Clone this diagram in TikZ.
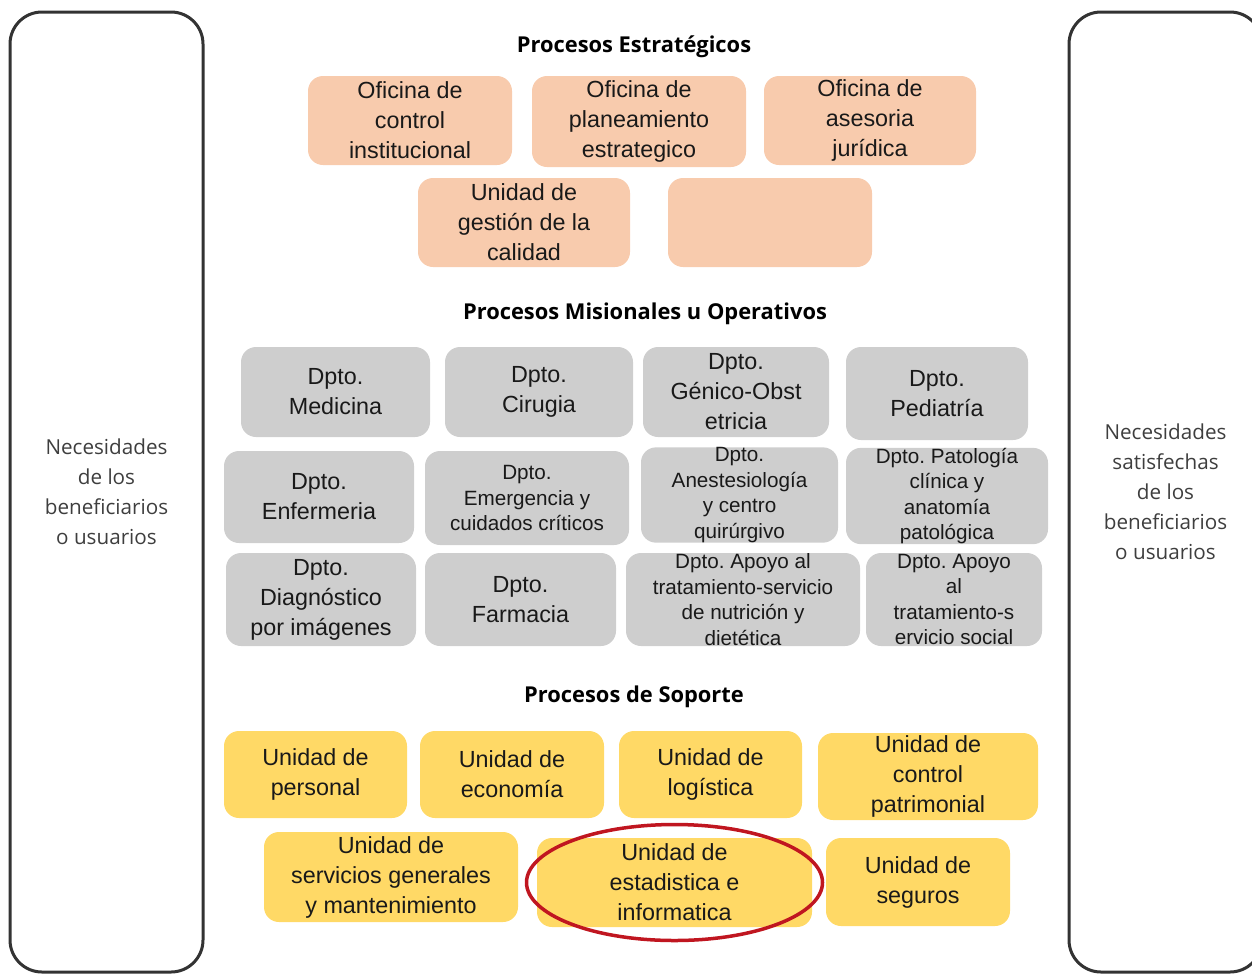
\documentclass[tikz,border=0pt]{standalone}
\usepackage{fontspec}
\setmainfont{Liberation Sans}
\newfontfamily\headfont{Open Sans}
\frenchspacing
\definecolor{peach}{RGB}{248,203,173}
\definecolor{greybox}{RGB}{206,206,206}
\definecolor{goldbox}{RGB}{255,217,102}
\definecolor{ringred}{RGB}{192,22,32}
\definecolor{sidetext}{RGB}{62,62,62}
\newcommand\px{0.75pt}
\newcommand\bigtxt{\fontsize{17.5}{22.5}\selectfont}
\newcommand\smalltxt{\fontsize{15.5}{19.2}\selectfont}
\begin{document}
\begin{tikzpicture}[x=0.75pt,y=-0.75pt,
  box/.style={rounded corners=15*\px,inner sep=0pt,align=center,text=black!90,font=\bigtxt},
  ebox/.style={box,fill=peach},
  mbox/.style={box,fill=greybox},
  sbox/.style={box,fill=goldbox},
  small/.style={font=\smalltxt},
  head/.style={inner sep=0pt,font=\headfont\bfseries\fontsize{16.4}{20}\selectfont},
  side/.style={draw=black!80,line width=3*\px,rounded corners=32*\px,inner sep=0pt,
    align=center,text=sidetext,font=\headfont\fontsize{15.5}{22.5}\selectfont}]
\useasboundingbox (0,0) rectangle (1252,975);
%lados
\node[side,minimum width=193*\px,minimum height=960*\px] (need) at (106.5,492) {Necesidades\\de los\\beneficiarios\\o usuarios};
\node[side,minimum width=193*\px,minimum height=960*\px] (done) at (1165.5,492) {Necesidades\\satisfechas\\de los\\beneficiarios\\o usuarios};
%estrategicos
\node[head] (hest) at (634,47) {Procesos Estratégicos};
\node[ebox,minimum width=204*\px,minimum height=89*\px] (e1) at (410,120.5) {Oficina de\\control\\institucional};
\node[ebox,minimum width=214*\px,minimum height=91*\px] (e2) at (639,121.5) {Oficina de\\planeamiento\\estrategico};
\node[ebox,minimum width=212*\px,minimum height=89*\px] (e3) at (870,120.5) {Oficina de\\asesoria\\jurídica};
\node[ebox,minimum width=212*\px,minimum height=89*\px] (e4) at (524,222.5) {Unidad de\\gestión de la\\calidad};
\node[ebox,minimum width=204*\px,minimum height=89*\px] (e5) at (770,222.5) {};
%misionales
\node[head] (hmis) at (645,314) {Procesos Misionales u Operativos};
\node[mbox,minimum width=189*\px,minimum height=90*\px] (m1) at (335.5,392) {Dpto.\\Medicina};
\node[mbox,minimum width=188*\px,minimum height=90*\px] (m2) at (539,392) {Dpto.\\Cirugia};
\node[mbox,minimum width=186*\px,minimum height=90*\px] (m3) at (736,392) {Dpto.\\Génico-Obst\\etricia};
\node[mbox,minimum width=182*\px,minimum height=93*\px] (m4) at (937,393.5) {Dpto.\\Pediatría};
\node[mbox,minimum width=190*\px,minimum height=92*\px] (m5) at (319,497) {Dpto.\\Enfermeria};
\node[mbox,small,minimum width=204*\px,minimum height=94*\px] (m6) at (527,498) {Dpto.\\Emergencia y\\cuidados críticos};
\node[mbox,small,minimum width=197*\px,minimum height=92*\px] (m7) at (739.5,495) {Dpto.\\Anestesiología\\y centro\\quirúrgivo};
\node[mbox,small,minimum width=202*\px,minimum height=94*\px] (m8) at (947,496) {Dpto. Patología\\clínica y\\anatomía\\patológica};
\node[mbox,minimum width=190*\px,minimum height=93*\px] (m9) at (321,599.5) {Dpto.\\Diagnóstico\\por imágenes};
\node[mbox,minimum width=191*\px,minimum height=93*\px] (m10) at (520.5,599.5) {Dpto.\\Farmacia};
\node[mbox,small,minimum width=234*\px,minimum height=93*\px] (m11) at (743,599.5) {Dpto. Apoyo al\\tratamiento-servicio\\de nutrición y\\dietética};
\node[mbox,small,minimum width=176*\px,minimum height=93*\px] (m12) at (954,599.5) {Dpto. Apoyo\\al\\tratamiento-s\\ervicio social};
%soporte
\node[head] (hsop) at (634,697) {Procesos de Soporte};
\node[sbox,minimum width=183*\px,minimum height=87*\px] (s1) at (315.5,774.5) {Unidad de\\personal};
\node[sbox,minimum width=184*\px,minimum height=87*\px] (s2) at (512,774.5) {Unidad de\\economía};
\node[sbox,minimum width=183*\px,minimum height=87*\px] (s3) at (710.5,774.5) {Unidad de\\logística};
\node[sbox,minimum width=220*\px,minimum height=87*\px] (s4) at (928,776.5) {Unidad de\\control\\patrimonial};
\node[sbox,minimum width=254*\px,minimum height=90*\px] (s5) at (391,877) {Unidad de\\servicios generales\\y mantenimiento};
\node[sbox,minimum width=275*\px,minimum height=89*\px] (s6) at (674.5,882.5) {Unidad de\\estadistica e\\informatica};
\node[sbox,minimum width=184*\px,minimum height=88*\px] (s7) at (918,882) {Unidad de\\seguros};
%marca
\draw[ringred,line width=3.5*\px] (s6.center) ellipse (148 and 58);
\end{tikzpicture}
\end{document}
